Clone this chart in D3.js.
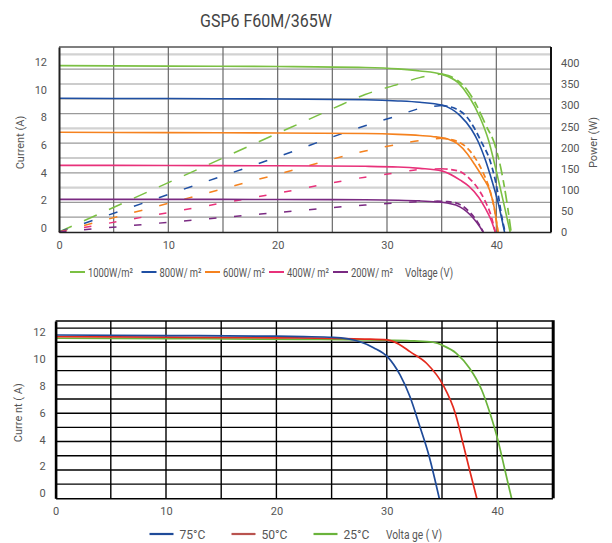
<!DOCTYPE html>
<html>
<head>
<meta charset="utf-8">
<script src="https://cdn.jsdelivr.net/npm/d3@7"></script>
<style>
  body { margin: 0; background: #fff; }
  text { font-family: Roboto, "DejaVu Sans", sans-serif; fill: #555; }
</style>
</head>
<body>
<div id="chart"></div>
<script>
// ---- data ----
const title = 'GSP6 F60M/365W';

// irradiance curves (top chart): voltage / current, voltage / power
const v1000 = [0, 10, 20, 28, 31, 33, 35, 36.5, 37.5, 38.5, 39.3, 40.0, 40.7, 41.26];
const i1000 = [12.03, 12.0, 11.97, 11.9, 11.8, 11.65, 11.4, 10.8, 9.8, 8.3, 6.6, 4.4, 2.0, 0];
const pv1000 = [0, 10, 20, 25, 28, 31, 33, 35, 36.3, 37.3, 38.2, 39.1, 39.8, 40.5, 41.0, 41.35];
const p1000 = [0, 117, 234, 292, 326, 350, 366, 375, 362, 338, 300, 250, 212, 140, 65, 0];

const v800 = [0, 10, 20, 28, 31, 33, 35, 36.7, 37.7, 38.3, 39.0, 39.6, 40.2, 40.75];
const i800 = [9.67, 9.65, 9.62, 9.56, 9.48, 9.38, 9.18, 8.4, 7.45, 6.6, 5.2, 3.7, 2.0, 0];
const pv800 = [0, 10, 20, 28, 31, 33, 35, 36.3, 37.3, 37.9, 38.7, 39.4, 39.9, 40.2, 40.5, 40.8];
const p800 = [0, 89, 178, 252, 276, 293, 300, 292, 273, 250, 210, 171, 123, 84, 36, 0];

const v600 = [0, 10, 20, 28, 31, 33, 34.5, 35.5, 36.5, 37.3, 38.0, 38.8, 39.4, 39.8, 40.15];
const i600 = [7.21, 7.19, 7.16, 7.12, 7.06, 6.98, 6.88, 6.75, 6.35, 5.7, 4.9, 3.9, 3.0, 1.8, 0];
const pv600 = [0, 10, 20, 28, 31, 33, 35, 36.3, 37.3, 38.0, 38.8, 39.4, 39.8, 40.15];
const p600 = [0, 68, 137, 192, 208, 217, 222, 216, 200, 178, 140, 100, 58, 0];

const v400 = [0, 10, 20, 28, 31, 33, 35, 36.7, 37.5, 38.4, 39.0, 39.5, 39.9];
const i400 = [4.82, 4.81, 4.79, 4.75, 4.7, 4.6, 4.42, 3.75, 3.3, 2.5, 1.7, 0.9, 0];
const pv400 = [0, 10, 20, 28, 31, 33, 35, 36.5, 37.5, 38.4, 39.0, 39.5, 39.9];
const p400 = [0, 46, 92, 130, 141, 148, 150, 145, 128, 100, 72, 40, 0];

const v200 = [0, 10, 20, 28, 31, 33, 34.5, 35.5, 36.3, 37.0, 37.6, 38.2, 38.8];
const i200 = [2.36, 2.36, 2.35, 2.33, 2.3, 2.25, 2.18, 2.1, 1.95, 1.65, 1.25, 0.7, 0];
const pv200 = [0, 10, 20, 28, 31, 33, 34.5, 35.5, 36.3, 37.0, 37.6, 38.2, 38.8];
const p200 = [0, 23, 46, 64, 69, 72, 73, 72, 69, 60, 46, 27, 0];

const irrLabels = ['1000W/m²', '800W/ m²', '600W/ m²', '400W/ m²', '200W/ m²'];

// temperature curves (bottom chart)
const v75 = [0, 10, 20, 22.5, 25.15, 26.5, 27.57, 28.8, 30.05, 31.2, 32.1, 33.0, 33.76, 34.75];
const i75 = [12.14, 12.1, 12.05, 12.02, 11.97, 11.85, 11.64, 11.2, 10.53, 9.17, 7.55, 5.32, 3.35, 0];
const v50 = [0, 10, 20, 26, 28, 30.05, 31.1, 32.1, 33.6, 35.1, 36.2, 36.9, 37.5, 38.15];
const i50 = [12.02, 11.98, 11.93, 11.88, 11.84, 11.77, 11.45, 10.9, 10.04, 8.42, 6.32, 4.09, 2.1, 0];
const v25 = [0, 10, 22, 30, 32.5, 34.2, 35.1, 36.3, 37.5, 38.6, 39.35, 40.1, 40.7, 41.3];
const i25 = [11.9, 11.87, 11.82, 11.75, 11.7, 11.6, 11.35, 10.78, 9.67, 8.05, 6.32, 4.21, 2.1, 0];
const tempLabels = ['75°C', '50°C', '25°C'];

const xTicks = [0, 10, 20, 30, 40];
const currentTicks = [0, 2, 4, 6, 8, 10, 12];
const powerTicks = [0, 50, 100, 150, 200, 250, 300, 350, 400];

// ---- styles ----
const irrColors = ['#7bc043', '#1f4fa3', '#f5821f', '#e8317a', '#7a2a82'];
const irrDash = ['14,13.4', '9,17.4', '8.5,17.4', '7.5,17.9', '7.5,17.6'];
const fallDash = ['12,5,7,4', '6,3.5', '6,3.5', '6,3.5', '6,3.5'];
const tempColors = ['#1f4b99', '#e42a1d', '#6ab33b'];
const tempLegendColors = ['#1f4b99', '#b9534f', '#6ab33b'];

const width = 612, height = 543;
const svg = d3.select('#chart').append('svg')
  .attr('width', width).attr('height', height);

svg.append('text')
  .attr('x', 200).attr('y', 27)
  .attr('textLength', 132).attr('lengthAdjust', 'spacingAndGlyphs')
  .style('font-size', '18.5px').style('fill', '#444')
  .text(title);

// =========== top chart ===========
const area1 = { left: 59, right: 551, top: 47, bottom: 232 };
const x1 = d3.scaleLinear().domain([0, 45]).range([area1.left, area1.right]);
const yI1 = d3.scaleLinear().domain([0, 13.38]).range([area1.bottom, area1.top]);
const yP1 = d3.scaleLinear().domain([0, 438.6]).range([area1.bottom, area1.top]);
const yG1 = d3.scaleLinear().domain([0, 12.5]).range([area1.bottom, area1.top]);

const g1 = svg.append('g');
// horizontal grid (a few lines drawn lighter, as in the sheet)
g1.append('g').selectAll('line').data(d3.range(1, 13)).join('line')
  .attr('x1', area1.left).attr('x2', area1.right)
  .attr('y1', d => yG1(d)).attr('y2', d => yG1(d))
  .attr('stroke', d => [3, 7, 12].includes(d) ? '#d2d2d2' : '#9a9a9a')
  .attr('stroke-width', d => [3, 7, 12].includes(d) ? 2.2 : 1.2);
// vertical grid
g1.append('g').selectAll('line').data(d3.range(5, 45, 5)).join('line')
  .attr('x1', d => x1(d)).attr('x2', d => x1(d))
  .attr('y1', area1.top).attr('y2', area1.bottom)
  .attr('stroke', '#6a6a6a').attr('stroke-width', 1.2);
// frame
g1.append('line').attr('x1', area1.left).attr('x2', area1.right)
  .attr('y1', area1.top).attr('y2', area1.top).attr('stroke', '#555').attr('stroke-width', 1.3);
g1.append('line').attr('x1', area1.right).attr('x2', area1.right)
  .attr('y1', area1.top).attr('y2', area1.bottom).attr('stroke', '#111').attr('stroke-width', 2);

const irrSeries = [
  { v: v1000, i: i1000, pv: pv1000, p: p1000 },
  { v: v800, i: i800, pv: pv800, p: p800 },
  { v: v600, i: i600, pv: pv600, p: p600 },
  { v: v400, i: i400, pv: pv400, p: p400 },
  { v: v200, i: i200, pv: pv200, p: p200 },
];

const ivLine1 = d3.line().x(d => x1(d[0])).y(d => yI1(d[1])).curve(d3.curveMonotoneX);
const pLine1 = d3.line().x(d => x1(d[0])).y(d => yP1(d[1])).curve(d3.curveMonotoneX);

// power curves, dashed: long dashes on the rise, short ones on the drop
irrSeries.forEach((s, k) => {
  const pts = d3.zip(s.pv, s.p);
  const peak = d3.maxIndex(s.p);
  g1.append('path')
    .datum(pts.slice(0, peak + 1))
    .attr('fill', 'none').attr('stroke', irrColors[k])
    .attr('stroke-width', 1.5).attr('stroke-dasharray', irrDash[k])
    .attr('d', pLine1);
  g1.append('path')
    .datum(pts.slice(peak))
    .attr('fill', 'none').attr('stroke', irrColors[k])
    .attr('stroke-width', 1.7).attr('stroke-dasharray', fallDash[k])
    .attr('d', pLine1);
});
// I-V curves
irrSeries.slice().reverse().forEach((s, r) => {
  const k = irrSeries.length - 1 - r;
  g1.append('path')
    .datum(d3.zip(s.v, s.i))
    .attr('fill', 'none').attr('stroke', irrColors[k])
    .attr('stroke-width', 1.6)
    .attr('d', ivLine1);
});

// axes
const axL1 = g1.append('g').attr('transform', `translate(${area1.left},0)`)
  .call(d3.axisLeft(yI1).tickValues(currentTicks).tickSize(0).tickPadding(12));
axL1.select('.domain').attr('stroke', '#222').attr('stroke-width', 2);
axL1.selectAll('.tick text').attr('transform', 'translate(0,-4)');

const axR1 = g1.append('g').attr('transform', `translate(${area1.right},0)`)
  .call(d3.axisRight(yP1).tickValues(powerTicks).tickSize(0).tickPadding(10));
axR1.select('.domain').remove();

const axB1 = g1.append('g').attr('transform', `translate(0,${area1.bottom})`)
  .call(d3.axisBottom(x1).tickValues(xTicks).tickSize(0).tickPadding(9));
axB1.select('.domain').attr('stroke', '#222').attr('stroke-width', 1.6);

[axL1, axR1, axB1].forEach(a => a.selectAll('.tick text')
  .style('font-size', '11px').style('fill', '#555')
  .style('font-family', 'Roboto, "DejaVu Sans", sans-serif'));

svg.append('text')
  .attr('transform', `translate(24,${(area1.top + area1.bottom) / 2 + 3}) rotate(-90)`)
  .attr('text-anchor', 'middle').style('font-size', '11px')
  .text('Current  (A)');
svg.append('text')
  .attr('transform', `translate(597,${(area1.top + area1.bottom) / 2 + 3}) rotate(-90)`)
  .attr('text-anchor', 'middle').style('font-size', '11px')
  .text('Power  (W)');

// legend top
const leg1X = [70, 141.5, 205, 269, 333];
const leg1W = [45, 42, 42, 42, 42];
irrLabels.forEach((lab, k) => {
  const lg = svg.append('g').attr('transform', `translate(${leg1X[k]},272)`);
  lg.append('line').attr('x1', 0).attr('x2', 15).attr('y1', 0).attr('y2', 0)
    .attr('stroke', irrColors[k]).attr('stroke-width', 2);
  lg.append('text').attr('x', 18).attr('y', 4.5)
    .attr('textLength', leg1W[k]).attr('lengthAdjust', 'spacingAndGlyphs')
    .style('font-size', '12px').text(lab);
});
svg.append('text').attr('x', 405).attr('y', 276.5)
  .attr('textLength', 48).attr('lengthAdjust', 'spacingAndGlyphs')
  .style('font-size', '12px').text('Voltage (V)');

// =========== bottom chart ===========
const area2 = { left: 55.6, right: 552.4, top: 321, bottom: 498.3 };
const x2 = d3.scaleLinear().domain([0, 45]).range([area2.left, area2.right]);
const yI2 = d3.scaleLinear().domain([0, 13.18]).range([area2.bottom, area2.top]);
const yG2 = d3.scaleLinear().domain([0, 12.5]).range([area2.bottom, area2.top]);

const g2 = svg.append('g');
g2.append('g').selectAll('line').data(d3.range(1, 13)).join('line')
  .attr('x1', area2.left).attr('x2', area2.right)
  .attr('y1', d => yG2(d)).attr('y2', d => yG2(d))
  .attr('stroke', '#000').attr('stroke-width', 1.4);
g2.append('g').selectAll('line').data(d3.range(5, 45, 5)).join('line')
  .attr('x1', d => x2(d)).attr('x2', d => x2(d))
  .attr('y1', area2.top).attr('y2', area2.bottom)
  .attr('stroke', '#000').attr('stroke-width', 1.4);
g2.append('line').attr('x1', area2.left).attr('x2', area2.right)
  .attr('y1', area2.top).attr('y2', area2.top).attr('stroke', '#000').attr('stroke-width', 1.6);
g2.append('line').attr('x1', area2.right + 0.8).attr('x2', area2.right + 0.8)
  .attr('y1', area2.top - 0.8).attr('y2', area2.bottom).attr('stroke', '#000').attr('stroke-width', 3);

const tempSeries = [
  { v: v75, i: i75 },
  { v: v50, i: i50 },
  { v: v25, i: i25 },
];
const ivLine2 = d3.line().x(d => x2(d[0])).y(d => yI2(d[1])).curve(d3.curveMonotoneX);
tempSeries.slice().reverse().forEach((s, r) => {
  const k = tempSeries.length - 1 - r;
  g2.append('path')
    .datum(d3.zip(s.v, s.i))
    .attr('fill', 'none').attr('stroke', tempColors[k])
    .attr('stroke-width', 1.7)
    .attr('d', ivLine2);
});

const axL2 = g2.append('g').attr('transform', `translate(${area2.left},0)`)
  .call(d3.axisLeft(yI2).tickValues(currentTicks).tickSize(0).tickPadding(10));
axL2.select('.domain').attr('stroke', '#000').attr('stroke-width', 2.6);
axL2.selectAll('.tick text').attr('transform', 'translate(0,-5)');

const axB2 = g2.append('g').attr('transform', `translate(0,${area2.bottom})`)
  .call(d3.axisBottom(x2).tickValues(xTicks).tickSize(0).tickPadding(9));
axB2.select('.domain').attr('stroke', '#000').attr('stroke-width', 1.6);

[axL2, axB2].forEach(a => a.selectAll('.tick text')
  .style('font-size', '11px').style('fill', '#555')
  .style('font-family', 'Roboto, "DejaVu Sans", sans-serif'));

svg.append('text')
  .attr('transform', `translate(22,${(area2.top + area2.bottom) / 2 + 3}) rotate(-90)`)
  .attr('text-anchor', 'middle').style('font-size', '11px')
  .text('Curre nt (  A)');

const leg2X = [149.5, 231.5, 313.5];
tempLabels.forEach((lab, k) => {
  const lg = svg.append('g').attr('transform', `translate(${leg2X[k]},534)`);
  lg.append('line').attr('x1', 0).attr('x2', 24).attr('y1', 0).attr('y2', 0)
    .attr('stroke', tempLegendColors[k]).attr('stroke-width', 2.2);
  lg.append('text').attr('x', 30).attr('y', 4.5)
    .attr('textLength', 26).attr('lengthAdjust', 'spacingAndGlyphs')
    .style('font-size', '12.5px').text(lab);
});
svg.append('text').attr('x', 386).attr('y', 538.5)
  .attr('textLength', 56).attr('lengthAdjust', 'spacingAndGlyphs')
  .style('font-size', '12.5px').text('Volta ge ( V)');
</script>
</body>
</html>
